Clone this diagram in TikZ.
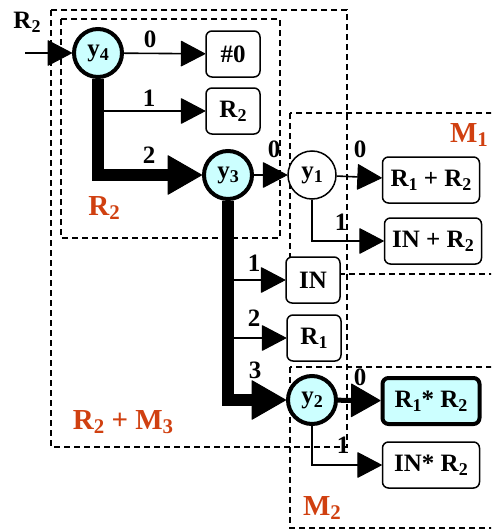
\documentclass[tikz,border=0pt]{standalone}
\usepackage{fontspec}
\setmainfont{Liberation Serif}
\usetikzlibrary{arrows.meta}
\definecolor{zonered}{RGB}{208,64,16}
\definecolor{hotcyan}{RGB}{204,255,255}
\newcommand{\lowidx}[1]{\raisebox{-0.35ex}{\scalebox{0.72}{#1}}}

\begin{document}
\begin{tikzpicture}[x=1pt, y=-1pt,
  st/.style={circle, draw, fill=white, line width=1.5pt, minimum size=48pt,
    inner sep=0pt, font=\fontsize{25}{25}\selectfont\bfseries},
  hot/.style={st, fill=hotcyan, line width=4pt},
  res/.style={draw, fill=white, rounded corners=6pt, line width=1.5pt,
    minimum width=#1, minimum height=46pt, inner sep=2pt,
    font=\fontsize{25}{25}\selectfont\bfseries},
  res/.default=54pt,
  arr/.style={-{Triangle[length=25pt, width=26pt, line width=1pt, round]}, line width=1.6pt},
  fat/.style={-{Triangle[length=35pt, width=40pt, line width=1pt, round]}, line width=12pt},
  mid/.style={-{Triangle[length=30pt, width=34pt, line width=1pt, round]}, line width=5pt},
  zone/.style={dashed, dash pattern=on 6pt off 4pt, line width=1.5pt},
  lbl/.style={font=\fontsize{25}{25}\selectfont\bfseries},
  zlbl/.style={text=zonered, font=\fontsize{29}{29}\selectfont\bfseries}
]
\useasboundingbox (0,0) rectangle (491,530);
\clip (0,0) rectangle (491,530);

% dashed regions
\draw[zone] (51,10) rectangle (347,447);
\draw[zone] (61,19) rectangle (280,238);
\draw[zone] (290,113) rectangle (500,274);
\draw[zone] (290,367) rectangle (500,528);

% states
\node[hot] (y4) at (98,53)  {y\lowidx{4}};
\node[hot] (y3) at (228,175) {y\lowidx{3}};
\node[st]  (y1) at (312,175) {y\lowidx{1}};
\node[hot] (y2) at (312,400) {y\lowidx{2}};

% results
\node[res]      (zero) at (233,54)  {\#0};
\node[res]      (r2b)  at (233,111) {R\lowidx{2}};
\node[res=97pt] (sum1) at (431,180) {R\lowidx{1} + R\lowidx{2}};
\node[res=97pt] (sum2) at (433,241) {IN + R\lowidx{2}};
\node[res]      (inb)  at (313,280) {IN};
\node[res]      (r1b)  at (314,338) {R\lowidx{1}};
\node[res=97pt, fill=hotcyan, line width=4pt] (mul1) at (431,401) {R\lowidx{1}* R\lowidx{2}};
\node[res=97pt] (mul2) at (431,465) {IN* R\lowidx{2}};

% input
\coordinate (in) at (25,53);
\node[lbl] (inl) at (27,22) {R\lowidx{2}};
\draw[arr] (in) -- (y4);

% y4 branches
\draw[arr] (y4) -- (zero);
\draw[arr] (y4 |- r2b) -- (r2b);
\draw[fat] (y4.south) |- (y3);
\node[lbl] (e40) at (150,39)  {0};
\node[lbl] (e41) at (149,98)  {1};
\node[lbl] (e42) at (149,155) {2};

% y3 branches
\draw[arr] (y3) -- (y1);
\draw[arr] (y3 |- inb) -- (inb);
\draw[arr] (y3 |- r1b) -- (r1b);
\draw[fat] (y3.south) |- (y2);
\node[lbl] (e30) at (274,149) {0};
\node[lbl] (e31) at (254,263) {1};
\node[lbl] (e32) at (254,318) {2};
\node[lbl] (e33) at (255,370) {3};

% y1 branches
\draw[arr] (y1) -- (sum1);
\draw[arr] (y1.south) |- (sum2);
\node[lbl] (e10) at (360,149) {0};
\node[lbl] (e11) at (341,222) {1};

% y2 branches
\draw[mid] (y2) -- (mul1);
\draw[arr] (y2.south) |- (mul2);
\node[lbl] (e20) at (360,377) {0};
\node[lbl] (e21) at (343,445) {1};

% region names
\node[zlbl] (zr2) at (104,208) {R\lowidx{2}};
\node[zlbl] (zm1) at (469,135) {M\lowidx{1}};
\node[zlbl] (zr2m3) at (123,422) {R\lowidx{2} + M\lowidx{3}};
\node[zlbl] (zm2) at (322,508) {M\lowidx{2}};
\end{tikzpicture}
\end{document}
